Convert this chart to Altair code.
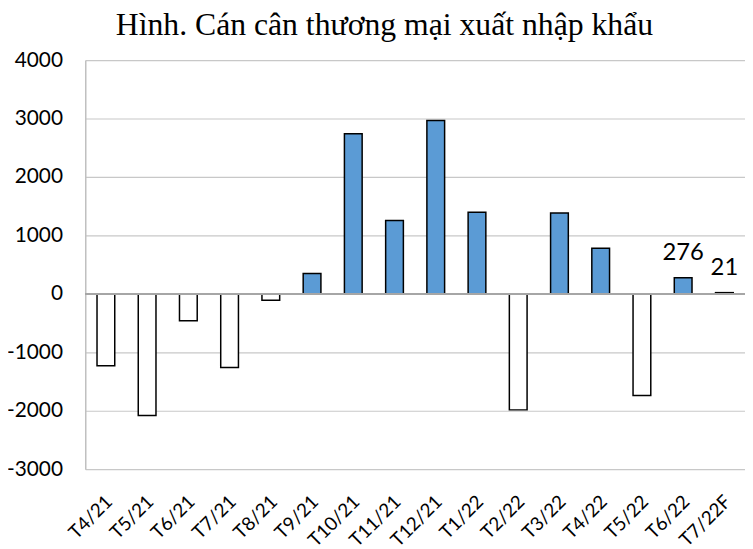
import altair as alt
import pandas as pd

months = ["T4/21", "T5/21", "T6/21", "T7/21", "T8/21", "T9/21", "T10/21", "T11/21",
          "T12/21", "T1/22", "T2/22", "T3/22", "T4/22", "T5/22", "T6/22", "T7/22F"]
values = [-1230, -2080, -460, -1260, -110, 350, 2740, 1255,
          2965, 1395, -1985, 1385, 780, -1740, 276, 21]
labels = ["", "", "", "", "", "", "", "", "", "", "", "", "", "", "276", "21"]
y_ticks = [-3000, -2000, -1000, 0, 1000, 2000, 3000, 4000]

df = pd.DataFrame({"month": months, "value": values, "label": labels})

x_enc = alt.X("month:N", sort=months, title=None,
              scale=alt.Scale(paddingInner=0.57, paddingOuter=0.285),
              axis=alt.Axis(labelAngle=-45, labelAlign="right", labelBaseline="top",
                            labelFont="Lato", labelFontSize=19, labelColor="#000000",
                            labelPadding=23, labelOffset=-3, ticks=False, domain=False,
                            grid=False))
y_scale = alt.Scale(domain=[-3000, 4000], nice=False)

bars = alt.Chart(df).mark_bar(stroke="#000000", strokeWidth=1.5).encode(
    x=x_enc,
    y=alt.Y("value:Q", scale=y_scale, title=None,
            axis=alt.Axis(values=y_ticks, labelExpr="'' + datum.value",
                          labelFont="Lato", labelFontSize=21, labelColor="#000000",
                          labelPadding=23, ticks=False, domain=True, domainColor="#BFBFBF",
                          domainWidth=1.5, grid=True, gridColor="#C8C8C8", gridWidth=1.2)),
    fill=alt.condition("datum.value < 0", alt.value("#FFFFFF"), alt.value("#5B9BD5")),
)

zero = alt.Chart(df).mark_rule(color="#A6A6A6", strokeWidth=1.5).encode(
    y=alt.datum(0, scale=y_scale)
)

text = alt.Chart(df).transform_filter("datum.label != ''").mark_text(
    font="Lato", fontSize=24, baseline="alphabetic", dy=-18, color="#000000"
).encode(
    x=alt.X("month:N", sort=months),
    y=alt.Y("value:Q", scale=y_scale),
    text="label:N",
)

chart = alt.layer(bars, zero, text).properties(
    width=666, height=413,
    autosize=alt.AutoSizeParams(type="none"),
    padding={"left": 78, "top": 50, "right": 0, "bottom": 80},
    title=alt.TitleParams("Hình. Cán cân thương mại xuất nhập khẩu",
                          font="Liberation Serif", fontSize=32, fontWeight="normal",
                          color="#000000", anchor="middle", dx=-31, offset=7),
).configure_view(stroke=None)

chart.save("out.html", embed_options={"renderer": "svg", "actions": False})
